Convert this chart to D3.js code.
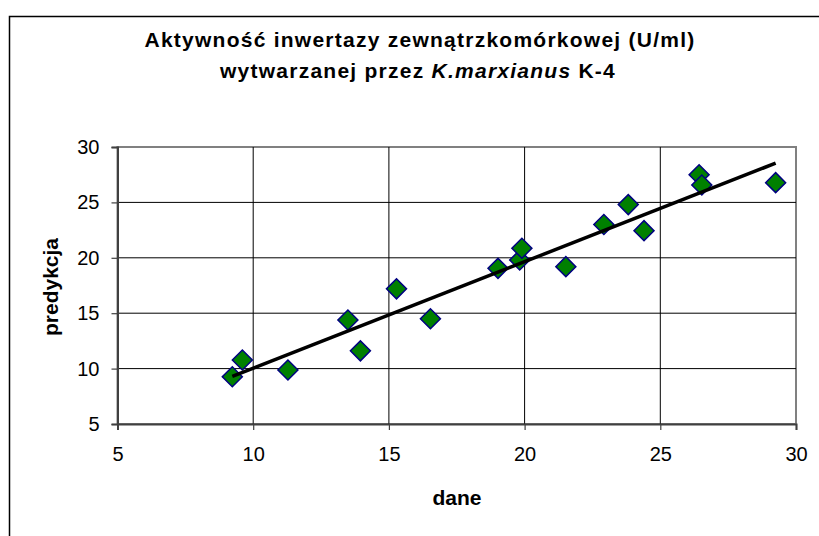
<html>
<head>
    <meta charset="UTF-8" />
    <title>Aktywność inwertazy</title>
    <script src="https://d3js.org/d3.v7.min.js"></script>
    <style>
        body { margin: 0; background: white; }
        text { font-family: Arial, "Liberation Sans", sans-serif; }
    </style>
</head>
<body>
    <svg id="chart" width="819" height="536"></svg>
    <script>
        // values
        const dane     = [9.23, 9.6, 11.28, 13.49, 13.95, 15.28, 16.53, 19.02, 19.82, 19.9, 21.52, 22.92, 23.82, 24.4, 26.43, 26.53, 29.25];
        const predykcja = [9.27, 10.78, 9.87, 14.39, 11.6, 17.2, 14.5, 19.05, 19.8, 20.86, 19.2, 23.0, 24.8, 22.45, 27.5, 26.57, 26.78];
        const xTicks = [5, 10, 15, 20, 25, 30];
        const yTicks = [5, 10, 15, 20, 25, 30];

        let svg = d3.select("svg#chart");
        const width = +svg.attr("width");
        const height = +svg.attr("height");

        const plot = {left: 117.5, right: 796, top: 147, bottom: 424};

        // chart area border (runs off the picture right and bottom)
        svg.append("rect")
            .attr("x", 9.5).attr("y", 16.5)
            .attr("width", 830).attr("height", 540)
            .attr("fill", "white")
            .attr("stroke", "black")
            .attr("stroke-width", 1.5);

        // title
        let title = svg.append("text")
            .attr("text-anchor", "middle")
            .attr("font-size", "21px")
            .attr("font-weight", "bold")
            .attr("letter-spacing", "1.25px")
            .attr("x", 420);
        title.append("tspan").attr("x", 420).attr("y", 47)
            .text("Aktywność inwertazy zewnątrzkomórkowej (U/ml)");
        let line2 = title.append("tspan").attr("x", 418).attr("y", 78);
        line2.append("tspan").text("wytwarzanej przez ");
        line2.append("tspan").attr("font-style", "italic").text("K.marxianus");
        line2.append("tspan").text(" K-4");

        const x = d3.scaleLinear().domain([5, 30]).range([plot.left, plot.right]);
        const y = d3.scaleLinear().domain([5, 30]).range([plot.bottom, plot.top]);

        // plot area
        svg.append("rect")
            .attr("x", plot.left).attr("y", plot.top)
            .attr("width", plot.right - plot.left).attr("height", plot.bottom - plot.top)
            .attr("fill", "white")
            .attr("stroke", "#808080")
            .attr("stroke-width", 2);

        // gridlines
        let grid = svg.append("g");
        grid.selectAll("line.v").data(xTicks.slice(1, -1)).join("line")
            .attr("x1", d => x(d)).attr("x2", d => x(d))
            .attr("y1", plot.top).attr("y2", plot.bottom)
            .attr("stroke", "black").attr("stroke-width", 1);
        grid.selectAll("line.h").data(yTicks.slice(1, -1)).join("line")
            .attr("class", "h")
            .attr("x1", plot.left).attr("x2", plot.right)
            .attr("y1", d => y(d)).attr("y2", d => y(d))
            .attr("stroke", "black").attr("stroke-width", 1);

        // axes
        let xAxis = svg.append("g")
            .attr("transform", `translate(0,${plot.bottom})`)
            .call(d3.axisBottom(x).tickValues(xTicks).tickSize(6).tickPadding(17));
        let yAxis = svg.append("g")
            .attr("transform", `translate(${plot.left},0)`)
            .call(d3.axisLeft(y).tickValues(yTicks).tickSize(6).tickPadding(12));
        [xAxis, yAxis].forEach(a => {
            a.select(".domain").attr("stroke", "#404040").attr("stroke-width", 2);
            a.selectAll(".tick line").attr("stroke", "#404040").attr("stroke-width", 1.2);
            a.selectAll("text")
                .attr("font-family", "Arial, 'Liberation Sans', sans-serif")
                .attr("font-size", "20px")
                .attr("fill", "black");
        });

        // axis titles
        svg.append("text")
            .attr("text-anchor", "middle")
            .attr("font-size", "21px")
            .attr("font-weight", "bold")
            .attr("x", 457).attr("y", 505)
            .text("dane");
        svg.append("text")
            .attr("text-anchor", "middle")
            .attr("font-size", "21px")
            .attr("font-weight", "bold")
            .attr("transform", "translate(58,287) rotate(-90)")
            .text("predykcja");

        // linear trendline (least squares)
        const n = dane.length;
        const mx = d3.mean(dane), my = d3.mean(predykcja);
        let sxy = 0, sxx = 0;
        dane.forEach((d, i) => {
            sxy += (d - mx) * (predykcja[i] - my);
            sxx += (d - mx) * (d - mx);
        });
        const slope = sxy / sxx;
        const intercept = my - slope * mx;
        const ext = d3.extent(dane);

        const points = dane.map((d, i) => ({x: d, y: predykcja[i]}));

        svg.append("g").selectAll("path").data(points).join("path")
            .attr("d", d3.symbol(d3.symbolSquare, 200))
            .attr("transform", d => `translate(${x(d.x)},${y(d.y)}) rotate(45)`)
            .attr("fill", "#008000")
            .attr("stroke", "#000080")
            .attr("stroke-width", 1.5);

        svg.append("line")
            .attr("x1", x(ext[0])).attr("y1", y(intercept + slope * ext[0]))
            .attr("x2", x(ext[1])).attr("y2", y(intercept + slope * ext[1]))
            .attr("stroke", "black")
            .attr("stroke-width", 3.5);
    </script>
</body>
</html>
